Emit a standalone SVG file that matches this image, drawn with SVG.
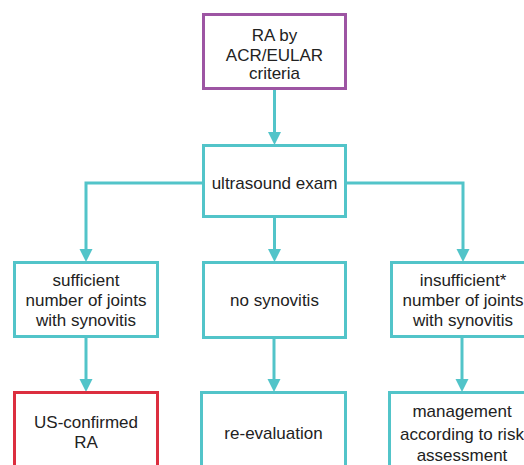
<svg xmlns="http://www.w3.org/2000/svg" width="524" height="465" viewBox="0 0 524 465">
<style>
.box{fill:#fff;stroke:#52c4c9;stroke-width:3}
.purple{stroke:#9d55a3}
.red{stroke:#dc2e3f}
.t{font-family:"Liberation Sans",Arial,sans-serif;font-size:17px;fill:#222;text-anchor:middle}
.ln{fill:none;stroke:#52c4c9;stroke-width:3}
.ah{fill:#52c4c9}
</style>
<rect width="524" height="465" fill="#fff"/>
<g id="connectors">
<path class="ln" d="M274.5 89V134"/>
<polygon class="ah" points="268,132 281,132 274.5,145"/>
<path class="ln" d="M203 183H86V250"/>
<polygon class="ah" points="79.5,249 92.5,249 86,262"/>
<path class="ln" d="M346 183H463V250"/>
<polygon class="ah" points="456.5,249 469.5,249 463,262"/>
<path class="ln" d="M274.5 217V250"/>
<polygon class="ah" points="268,249 281,249 274.5,262"/>
<path class="ln" d="M86 337V380"/>
<polygon class="ah" points="79.5,379 92.5,379 86,392"/>
<path class="ln" d="M274 338V380"/>
<polygon class="ah" points="267.5,379 280.5,379 274,392"/>
<path class="ln" d="M462 337V380"/>
<polygon class="ah" points="455.5,379 468.5,379 462,392"/>
</g>
<g id="ra-criteria">
<rect class="box purple" x="203.5" y="14.5" width="142" height="74"/>
<text class="t" x="274.5" y="41">RA by</text>
<text class="t" x="274.5" y="61">ACR/EULAR</text>
<text class="t" x="274.5" y="79">criteria</text>
</g>
<g id="ultrasound">
<rect class="box" x="203.5" y="145.5" width="142" height="71"/>
<text class="t" x="274.5" y="189">ultrasound exam</text>
</g>
<g id="sufficient">
<rect class="box" x="14.5" y="262.5" width="143" height="74"/>
<text class="t" x="86" y="286">sufficient</text>
<text class="t" x="86" y="306">number of joints</text>
<text class="t" x="86" y="326">with synovitis</text>
</g>
<g id="no-synovitis">
<rect class="box" x="203.5" y="262.5" width="142" height="75"/>
<text class="t" x="274.5" y="306">no synovitis</text>
</g>
<g id="insufficient">
<rect class="box" x="391.5" y="262.5" width="144" height="74"/>
<text class="t" x="463" y="286">insufficient*</text>
<text class="t" x="463" y="306">number of joints</text>
<text class="t" x="463" y="326">with synovitis</text>
</g>
<g id="us-confirmed">
<rect class="box red" x="14.5" y="392.5" width="143" height="80"/>
<text class="t" x="86" y="428">US-confirmed</text>
<text class="t" x="86" y="448">RA</text>
</g>
<g id="re-evaluation">
<rect class="box" x="201.5" y="392.5" width="144" height="80"/>
<text class="t" x="273.5" y="439">re-evaluation</text>
</g>
<g id="management">
<rect class="box" x="389.5" y="392.5" width="144" height="80"/>
<text class="t" x="462" y="417">management</text>
<text class="t" x="462" y="440">according to risk</text>
<text class="t" x="462" y="461">assessment</text>
</g>
</svg>
